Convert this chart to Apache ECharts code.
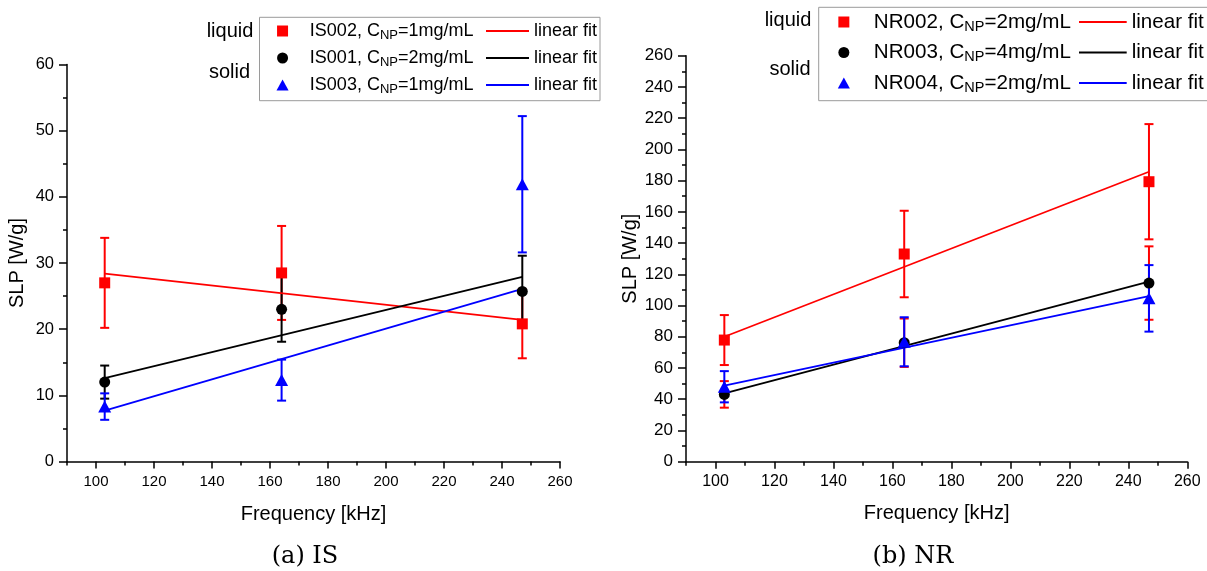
<!DOCTYPE html>
<html>
<head>
<meta charset="utf-8">
<script src="https://cdn.jsdelivr.net/npm/echarts@6/dist/echarts.min.js"></script>
<style>
  html, body { margin: 0; padding: 0; background: #fff; }
  #chart { width: 1207px; height: 571px; }
</style>
</head>
<body>
<div id="chart"></div>
<script>
// Measurement frequencies [kHz] and the range each linear fit spans
const freq = [103, 164, 247];
const fitFreq = [103, 247];

// Labelled x ticks (both panels)
const xMajorTicks = [100, 120, 140, 160, 180, 200, 220, 240, 260];

// (a) IS samples: SLP [W/g] with error bars
const isLabels = ['IS002, C_NP=1mg/mL', 'IS001, C_NP=2mg/mL', 'IS003, C_NP=1mg/mL'];
const is002 = [27.0, 28.5, 20.8];
const is002Err = [6.8, 7.1, 5.2];
const is001 = [12.0, 23.0, 25.7];
const is001Err = [2.5, 4.9, 5.4];
const is003 = [8.3, 12.3, 41.9];
const is003Err = [2.0, 3.1, 10.3];
// linear fit values at fitFreq
const is002Fit = [28.4, 21.4];
const is001Fit = [12.6, 27.9];
const is003Fit = [7.7, 26.1];

// (b) NR samples
const nrLabels = ['NR002, C_NP=2mg/mL', 'NR003, C_NP=4mg/mL', 'NR004, C_NP=2mg/mL'];
const nr002 = [77.9, 133.0, 179.3];
const nr002Err = [16.0, 27.7, 36.9];
const nr003 = [43.1, 76.2, 114.4];
const nr003Err = [8.5, 15.5, 23.5];
const nr004 = [48.0, 76.8, 104.6];
const nr004Err = [10.0, 15.7, 21.3];
const nr002Fit = [80.0, 185.7];
const nr003Fit = [43.8, 115.3];
const nr004Fit = [48.7, 106.1];

const RED = '#ff0000', BLACK = '#000000', BLUE = '#0000ff';
const SANS = "'Liberation Sans', Arial, sans-serif";

// Legend glyphs, kept at their own aspect ratio inside the legend box
const ICONS = {
  rect: 'path://M0,0H10V10H0Z',
  circle: 'circle',
  triangle: 'path://M5.5,0L11,10L0,10Z'
};
const FIT_ICON = 'path://M0,0H44V1.8H0Z';

const panels = [
  { sets: [
    { name: isLabels[0], y: is002, err: is002Err, fit: is002Fit, color: RED,   errColor: RED,   symbol: 'rect' },
    { name: isLabels[1], y: is001, err: is001Err, fit: is001Fit, color: BLACK, errColor: BLACK, symbol: 'circle' },
    { name: isLabels[2], y: is003, err: is003Err, fit: is003Fit, color: BLUE,  errColor: BLUE,  symbol: 'triangle' }
  ]},
  { sets: [
    { name: nrLabels[0], y: nr002, err: nr002Err, fit: nr002Fit, color: RED,   errColor: RED,   symbol: 'rect' },
    { name: nrLabels[1], y: nr003, err: nr003Err, fit: nr003Fit, color: BLACK, errColor: RED,   symbol: 'circle' },
    { name: nrLabels[2], y: nr004, err: nr004Err, fit: nr004Fit, color: BLUE,  errColor: BLUE,  symbol: 'triangle' }
  ]}
];

// Vertical error bar with short caps
function errorBar(params, api) {
  const x = api.value(0);
  const lo = api.coord([x, api.value(1)]);
  const hi = api.coord([x, api.value(2)]);
  const half = 4.5;
  const style = { stroke: api.visual('color'), lineWidth: 2 };
  return {
    type: 'group',
    children: [
      { type: 'line', shape: { x1: hi[0], y1: hi[1], x2: lo[0], y2: lo[1] }, style: style },
      { type: 'line', shape: { x1: hi[0] - half, y1: hi[1], x2: hi[0] + half, y2: hi[1] }, style: style },
      { type: 'line', shape: { x1: lo[0] - half, y1: lo[1], x2: lo[0] + half, y2: lo[1] }, style: style }
    ]
  };
}

const series = [];
panels.forEach(function (panel, g) {
  panel.sets.forEach(function (s) {
    series.push({
      type: 'custom', xAxisIndex: g * 2, yAxisIndex: g, silent: true, z: 2,
      renderItem: errorBar,
      encode: { x: 0, y: [1, 2] },
      itemStyle: { color: s.errColor },
      data: freq.map(function (f, i) { return [f, s.y[i] - s.err[i], s.y[i] + s.err[i]]; })
    });
  });
  panel.sets.forEach(function (s) {
    series.push({
      type: 'line', name: 'fit ' + s.name, xAxisIndex: g * 2, yAxisIndex: g, z: 3,
      symbol: 'none', silent: true,
      lineStyle: { color: s.color, width: 1.8 },
      itemStyle: { color: s.color },
      data: fitFreq.map(function (f, i) { return [f, s.fit[i]]; })
    });
  });
  panel.sets.forEach(function (s) {
    series.push({
      type: 'scatter', name: s.name, xAxisIndex: g * 2, yAxisIndex: g, z: 4,
      symbol: s.symbol,
      symbolSize: s.symbol === 'triangle' ? [13, 12] : 11,
      itemStyle: { color: s.color, opacity: 1 },
      data: freq.map(function (f, i) { return [f, s.y[i]]; })
    });
  });
});

function xAxesFor(g, labelSize, labelMargin, nameGap) {
  return [
    {
      gridIndex: g, type: 'value', position: 'bottom', min: 90, max: 260, interval: 10,
      name: 'Frequency [kHz]', nameLocation: 'middle', nameGap: nameGap,
      nameTextStyle: { fontSize: 20, color: '#000', fontFamily: SANS },
      axisLine: { onZero: false, lineStyle: { color: '#000', width: 1.5 } },
      axisTick: { show: true, inside: false, length: 4, lineStyle: { color: '#000', width: 1.5 } },
      axisLabel: {
        margin: labelMargin, fontSize: labelSize, color: '#000', fontFamily: SANS,
        formatter: function (v) { return v % 20 === 0 ? String(v) : ''; }
      },
      splitLine: { show: false }
    },
    {
      gridIndex: g, type: 'value', position: 'bottom', min: 90, max: 260, interval: 10,
      axisLine: { show: false },
      axisTick: { show: true, inside: false, length: 7, customValues: xMajorTicks,
                  lineStyle: { color: '#000', width: 1.5 } },
      axisLabel: { show: false },
      splitLine: { show: false }
    }
  ];
}

function yAxisFor(g, max, interval, labelSize, nameGap) {
  return {
    gridIndex: g, type: 'value', min: 0, max: max, interval: interval,
    name: 'SLP [W/g]', nameLocation: 'middle', nameGap: nameGap, nameRotate: 90,
    nameTextStyle: { fontSize: 20, color: '#000', fontFamily: SANS },
    axisLine: { show: true, onZero: false, lineStyle: { color: '#000', width: 1.5 } },
    axisTick: { show: true, inside: false, length: 8, lineStyle: { color: '#000', width: 1.5 } },
    minorTick: { show: true, splitNumber: 2, length: 4, lineStyle: { color: '#000', width: 1.5 } },
    axisLabel: { margin: 13, fontSize: labelSize, color: '#000', fontFamily: SANS },
    splitLine: { show: false },
    minorSplitLine: { show: false }
  };
}

function legendText(size, subSize, lineHeight) {
  return {
    fontSize: size, color: '#000', fontFamily: SANS, lineHeight: lineHeight,
    rich: {
      sub: { fontSize: subSize, lineHeight: subSize, verticalAlign: 'bottom', color: '#000', fontFamily: SANS }
    }
  };
}
function subFmt(name) { return name.replace('C_NP', 'C{sub|NP}'); }
function fitFmt() { return 'linear fit'; }

function markerItems(panel) {
  return panel.sets.map(function (s) { return { name: s.name, icon: ICONS[s.symbol] }; });
}
function fitItems(panel) {
  return panel.sets.map(function (s) { return { name: 'fit ' + s.name, icon: FIT_ICON }; });
}

const leftText = legendText(18, 13, 22);
const rightText = legendText(20.6, 14.5, 24);

const option = {
  animation: false,
  backgroundColor: '#ffffff',
  grid: [
    { left: 67, right: 647, top: 64.5, bottom: 109.5, containLabel: false, outerBoundsMode: 'none' },
    { left: 686, right: 19.7, top: 55.7, bottom: 109.3, containLabel: false, outerBoundsMode: 'none' }
  ],
  xAxis: xAxesFor(0, 15, 13, 43).concat(xAxesFor(1, 16, 12, 42)),
  yAxis: [
    yAxisFor(0, 60, 10, 16.5, 40),
    yAxisFor(1, 260, 20, 17, 45)
  ],
  legend: [
    { orient: 'vertical', left: 276.5, top: 20, padding: 0, itemWidth: 44.6, itemHeight: 11, itemGap: 5,
      selectedMode: false, data: markerItems(panels[0]), formatter: subFmt, textStyle: leftText },
    { orient: 'vertical', left: 486, top: 20, padding: 0, itemWidth: 43, itemHeight: 11, itemGap: 5,
      selectedMode: false, data: fitItems(panels[0]), formatter: fitFmt, textStyle: leftText },
    { orient: 'vertical', left: 837.8, top: 10, padding: 0, itemWidth: 50, itemHeight: 11, itemGap: 6.5,
      selectedMode: false, data: markerItems(panels[1]), formatter: subFmt, textStyle: rightText },
    { orient: 'vertical', left: 1079, top: 10, padding: 0, itemWidth: 47.7, itemHeight: 11, itemGap: 6.5,
      selectedMode: false, data: fitItems(panels[1]), formatter: fitFmt, textStyle: rightText }
  ],
  title: [
    { text: '(a) IS', left: 305, top: 545, textAlign: 'center', padding: 0,
      textStyle: { fontFamily: "'DejaVu Serif', serif", fontWeight: 'normal', fontSize: 24, color: '#000' } },
    { text: '(b) NR', left: 913, top: 545, textAlign: 'center', padding: 0,
      textStyle: { fontFamily: "'DejaVu Serif', serif", fontWeight: 'normal', fontSize: 24, color: '#000' } }
  ],
  graphic: [
    { type: 'rect', z: -1, silent: true, shape: { x: 259.5, y: 17.3, width: 340.5, height: 83.4 },
      style: { fill: 'none', stroke: '#9a9a9a', lineWidth: 1 } },
    { type: 'rect', z: -1, silent: true, shape: { x: 818.7, y: 7.3, width: 400, height: 93.4 },
      style: { fill: 'none', stroke: '#9a9a9a', lineWidth: 1 } },
    { type: 'text', x: 230, y: 31, silent: true,
      style: { text: 'liquid', fontSize: 20, fontFamily: SANS, fill: '#000', align: 'center', verticalAlign: 'middle' } },
    { type: 'text', x: 229.5, y: 72, silent: true,
      style: { text: 'solid', fontSize: 20, fontFamily: SANS, fill: '#000', align: 'center', verticalAlign: 'middle' } },
    { type: 'text', x: 788, y: 20.8, silent: true,
      style: { text: 'liquid', fontSize: 20, fontFamily: SANS, fill: '#000', align: 'center', verticalAlign: 'middle' } },
    { type: 'text', x: 790, y: 69.7, silent: true,
      style: { text: 'solid', fontSize: 20, fontFamily: SANS, fill: '#000', align: 'center', verticalAlign: 'middle' } }
  ],
  series: series
};

const chart = echarts.init(document.getElementById('chart'), null, { renderer: 'canvas' });
chart.setOption(option);
</script>
</body>
</html>
